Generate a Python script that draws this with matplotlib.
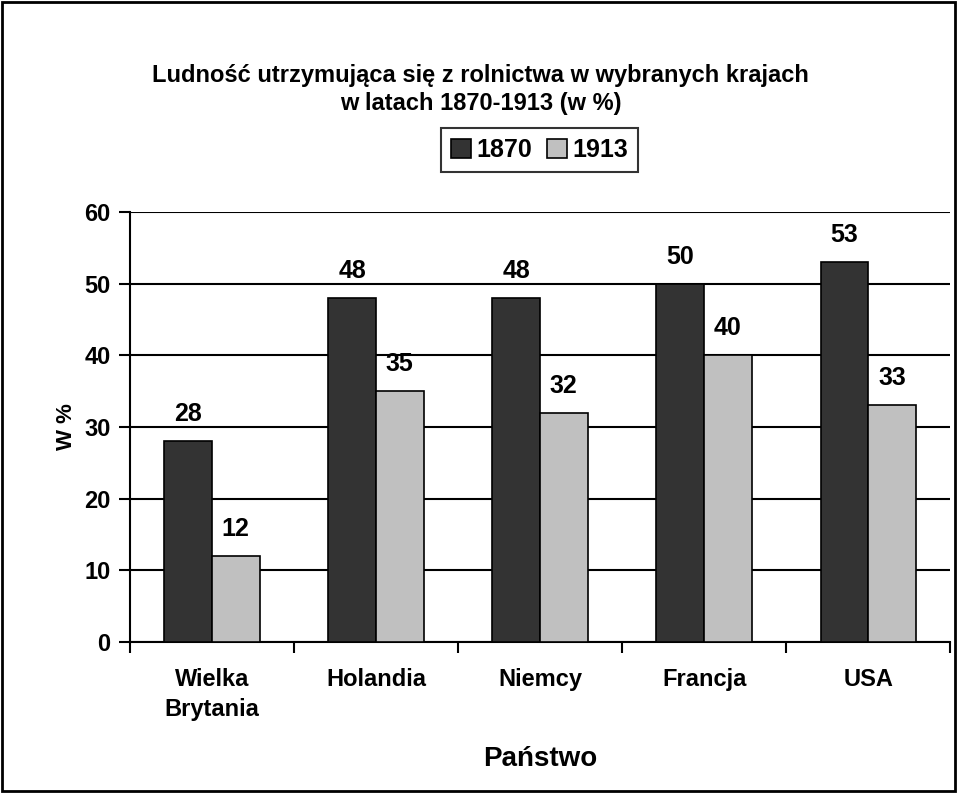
# Ludność utrzymująca się z rolnictwa - wykres słupkowy w stylu Excela

import numpy as np
import matplotlib
matplotlib.use('Agg')
import matplotlib.pyplot as plt
from matplotlib.patches import Rectangle

plt.rcParams['font.family'] = ['Liberation Sans', 'DejaVu Sans']
plt.rcParams['font.weight'] = 'bold'

# dane
countries = ['Wielka\nBrytania', 'Holandia', 'Niemcy', 'Francja', 'USA']
years = ['1870', '1913']
v1870 = [28, 48, 48, 50, 53]
v1913 = [12, 35, 32, 40, 33]

fig = plt.figure(figsize=(9.57, 7.93), dpi=100)
ax = fig.add_axes([0.1358, 0.1904, 0.857, 0.5423])

x = np.arange(len(countries))
w = 0.29
b1 = ax.bar(x - w/2, v1870, w, color='#333333', edgecolor='black', linewidth=1.2, label=years[0], zorder=3)
b2 = ax.bar(x + w/2, v1913, w, color='#c0c0c0', edgecolor='black', linewidth=1.2, label=years[1], zorder=3)

for bars in (b1, b2):
    for r in bars:
        ax.text(r.get_x() + r.get_width()/2, r.get_height() + 2.1, f'{r.get_height():.0f}',
                ha='center', va='bottom', fontsize=18, fontweight='bold')

ax.set_xlim(-0.5, 4.5)
ax.set_ylim(0, 60)
ax.set_yticks(range(0, 61, 10))
ax.yaxis.grid(True, color='black', linewidth=1.5, zorder=0)
ax.set_axisbelow(True)

# kategorie - etykiety na srodku, kreski na granicach
ax.set_xticks(x)
ax.set_xticklabels(countries, fontsize=17, fontweight='bold', linespacing=1.35)
ax.tick_params(axis='x', length=0, pad=19)
ax.set_xticks(np.arange(-0.5, 5, 1), minor=True)
ax.tick_params(axis='x', which='minor', length=8, width=1.5, direction='out')
ax.tick_params(axis='y', length=8, width=1.5, labelsize=17, pad=6)
for lab in ax.get_yticklabels():
    lab.set_fontweight('bold')

for s in ['top', 'right']:
    ax.spines[s].set_visible(False)
ax.spines['left'].set_linewidth(1.5)
ax.spines['bottom'].set_linewidth(1.5)

ax.set_ylabel('W %', fontsize=16, fontweight='bold', labelpad=5)
ax.set_xlabel('Państwo', fontsize=20, fontweight='bold', labelpad=18)

fig.text(0.502, 0.887, 'Ludność utrzymująca się z rolnictwa w wybranych krajach\nw latach 1870-1913 (w %)',
         ha='center', va='center', fontsize=17, fontweight='bold', linespacing=1.3)

leg = fig.legend(loc='center', bbox_to_anchor=(0.564, 0.811), ncol=2, fontsize=18,
                 frameon=True, fancybox=False, edgecolor='black', handlelength=0.8,
                 handleheight=0.8, handletextpad=0.2, columnspacing=0.6, borderpad=0.4)
leg.get_frame().set_linewidth(1.5)
for t in leg.get_texts():
    t.set_fontweight('bold')

# ramka dookola calego wykresu
fig.patches.append(Rectangle((0.002, 0.002), 0.996, 0.996, transform=fig.transFigure,
                             fill=False, edgecolor='black', linewidth=2))

fig.savefig('out.png', dpi=100)
